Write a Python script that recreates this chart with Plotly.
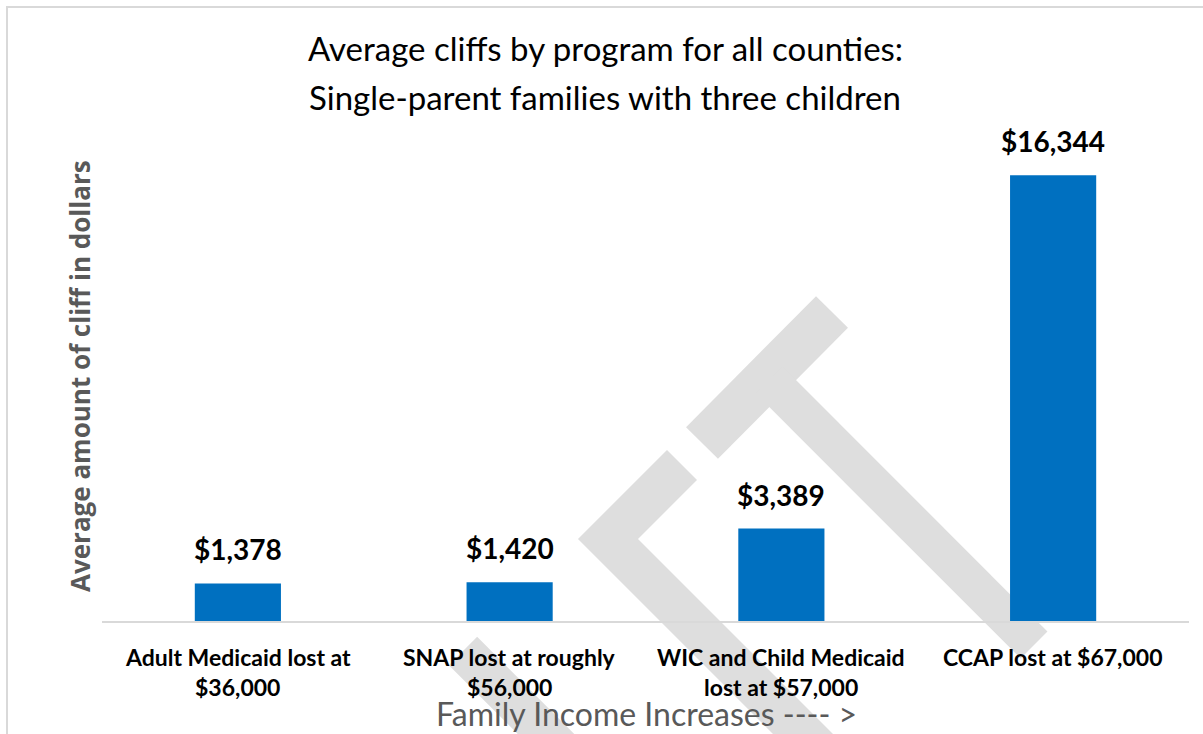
import numpy as np
import plotly.graph_objects as go

# ---------------- data ----------------
categories = [
    "Adult Medicaid lost at $36,000",
    "SNAP lost at roughly $56,000",
    "WIC and Child Medicaid lost at $57,000",
    "CCAP lost at $67,000",
]
tick_line1 = ["Adult Medicaid lost at", "SNAP lost at roughly", "WIC and Child Medicaid", "CCAP lost at $67,000"]
tick_line2 = ["$36,000", "$56,000", "lost at $57,000", ""]
cliff_values = [1378, 1420, 3389, 16344]
value_labels = ["$1,378", "$1,420", "$3,389", "$16,344"]
title_lines = ["Average cliffs by program for all counties:", "Single-parent families with three children"]
x_title = "Family Income Increases ---- >"
y_title = "Average amount of cliff in dollars"

# ---------------- layout geometry ----------------
W, H = 1203, 734
L, R, T, B = 102, 14, 130, 113
PW, PH = W - L - R, H - T - B


def px2paper(x, y):
    return (x - L) / PW, (H - B - y) / PH


BAR_COLOR = "#0070C0"
GRAY_TXT = "#595959"
WM = "#dedede"

fig = go.Figure(
    go.Bar(
        x=categories,
        y=cliff_values,
        marker=dict(color=BAR_COLOR, line=dict(width=0)),
        width=0.317,
        hoverinfo="skip",
    )
)

annotations = []
# data labels
for c, v, lab in zip(categories, cliff_values, value_labels):
    annotations.append(dict(x=c, y=v, xref="x", yref="y", text=lab, showarrow=False,
                            yanchor="bottom", yshift=15,
                            font=dict(family="Lato", size=28, color="black", weight="bold")))
# category labels (two lines)
for c, l1, l2 in zip(categories, tick_line1, tick_line2):
    annotations.append(dict(x=c, y=0, xref="x", yref="y", text=l1, showarrow=False,
                            yanchor="middle", yshift=-36,
                            font=dict(family="Lato", size=23, color="black", weight="bold")))
    if l2:
        annotations.append(dict(x=c, y=0, xref="x", yref="y", text=l2, showarrow=False,
                                yanchor="middle", yshift=-66,
                                font=dict(family="Lato", size=23, color="black", weight="bold")))
# title lines
for line, py in zip(title_lines, [48, 97]):
    xp, yp = px2paper(605, py)
    annotations.append(dict(x=xp, y=yp, xref="paper", yref="paper", text=line, showarrow=False,
                            xanchor="center", yanchor="middle",
                            font=dict(family="Lato", size=33, color="black")))
# x-axis title
xp, yp = px2paper(646, 713)
annotations.append(dict(x=xp, y=yp, xref="paper", yref="paper", text=x_title, showarrow=False,
                        xanchor="center", yanchor="middle",
                        font=dict(family="Lato", size=32, color=GRAY_TXT)))
# y-axis title
xp, yp = px2paper(80, 376)
annotations.append(dict(x=xp, y=yp, xref="paper", yref="paper", text=y_title, showarrow=False,
                        textangle=-90, xanchor="center", yanchor="middle",
                        font=dict(family="Open Sans", size=26, color=GRAY_TXT, weight="bold")))

# ---------------- decorative watermark & frame ----------------
def poly_path(points):
    pts = [px2paper(x, y) for x, y in points]
    return "M " + " L ".join(f"{a:.5f},{b:.5f}" for a, b in pts) + " Z"


def band(p0, p1, w):
    p0, p1 = np.array(p0, float), np.array(p1, float)
    d = (p1 - p0) / np.linalg.norm(p1 - p0)
    n = np.array([-d[1], d[0]]) * w / 2
    return [tuple(p0 + n), tuple(p1 + n), tuple(p1 - n), tuple(p0 - n)]


shapes = []
wm_polys = [
    band((832, 312), (702, 443), 45),
    band((769, 380), (1034, 645), 38),
    [(667, 450), (578, 539), (828, 789), (888, 789), (638, 539), (697, 480)],
    band((463, 651), (590, 778), 40),
]
for p in wm_polys:
    shapes.append(dict(type="path", path=poly_path(p), xref="paper", yref="paper",
                       fillcolor=WM, line=dict(width=0), layer="below"))

x0, y0 = px2paper(7, 7)
x1, y1 = px2paper(1215, 745)
shapes.append(dict(type="rect", x0=x0, y0=y1, x1=x1, y1=y0, xref="paper", yref="paper",
                   line=dict(color="#d9d9d9", width=2), fillcolor="rgba(0,0,0,0)", layer="below"))

fig.update_layout(
    width=W, height=H,
    margin=dict(l=L, r=R, t=T, b=B, pad=0),
    paper_bgcolor="white", plot_bgcolor="rgba(0,0,0,0)",
    showlegend=False,
    bargap=0.683,
    annotations=annotations,
    shapes=shapes,
    xaxis=dict(showticklabels=False, ticks="", showgrid=False, zeroline=False,
               showline=True, linecolor="#d9d9d9", linewidth=2),
    yaxis=dict(range=[0, 18000], showticklabels=False, ticks="", showgrid=False,
               zeroline=False, showline=False),
)

fig.write_html("out.html")
